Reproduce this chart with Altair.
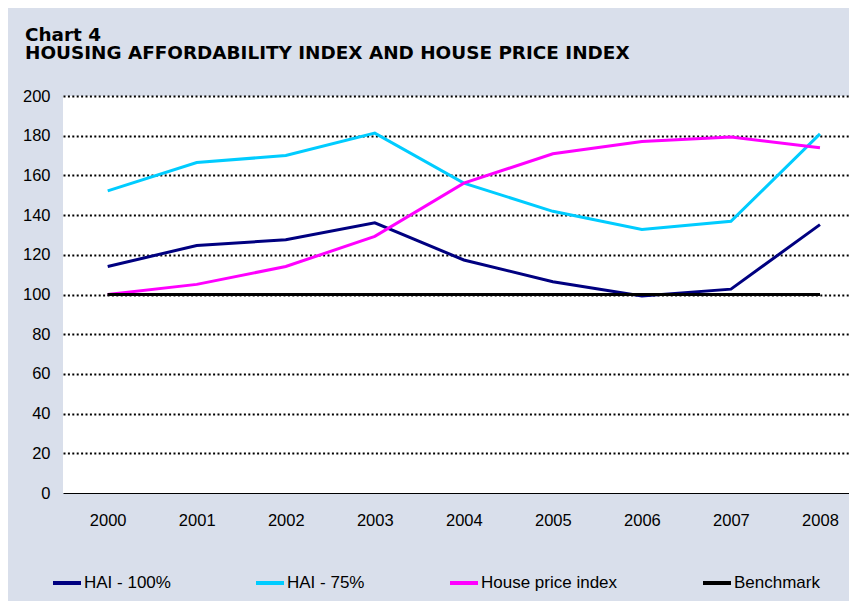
import altair as alt
import pandas as pd

years = [2000, 2001, 2002, 2003, 2004, 2005, 2006, 2007, 2008]
hai_100 = [114.1, 124.7, 127.6, 136.1, 117.4, 106.4, 99.3, 102.7, 135.2]
hai_75 = [152.2, 166.5, 170.0, 181.3, 156.1, 141.9, 132.7, 136.9, 180.9]
house_price = [100.0, 105.1, 114.1, 129.3, 156.1, 170.9, 177.1, 179.3, 173.9]
benchmark = [100, 100, 100, 100, 100, 100, 100, 100, 100]

series_names = ["HAI - 100%", "HAI - 75%", "House price index", "Benchmark"]
series_colors = ["#000080", "#00ccff", "#ff00ff", "#000000"]
y_ticks = [0, 20, 40, 60, 80, 100, 120, 140, 160, 180, 200]

rows = []
for name, vals in zip(series_names, [hai_100, hai_75, house_price, benchmark]):
    for yr, v in zip(years, vals):
        rows.append({"year": yr, "value": v, "series": name})
df = pd.DataFrame(rows)

FONT = "Liberation Sans"

color = alt.Color(
    "series:N",
    scale=alt.Scale(domain=series_names, range=series_colors),
    legend=alt.Legend(
        title=None,
        orient="none",
        legendX=-12,
        legendY=471,
        direction="horizontal",
        symbolType="stroke",
        symbolSize=784,
        symbolStrokeWidth=4,
        labelFontSize=17,
        labelFont=FONT,
        labelColor="#000000",
        labelOffset=1,
        columnPadding=77,
        padding=0,
        labelLimit=0,
    ),
)

x = alt.X(
    "year:Q",
    scale=alt.Scale(domain=[1999.498, 2008.326], nice=False, zero=False),
    axis=alt.Axis(
        title=None,
        values=years,
        format="d",
        grid=False,
        ticks=False,
        labelFlush=False,
        labelPadding=19,
        labelFontSize=16.5,
        labelFont=FONT,
        labelColor="#000000",
        domainColor="#000000",
        domainWidth=1.2,
    ),
)
y = alt.Y(
    "value:Q",
    scale=alt.Scale(domain=[0, 200], nice=False),
    axis=alt.Axis(
        title=None,
        values=y_ticks,
        domain=False,
        ticks=False,
        labelPadding=13,
        labelFontSize=16.5,
        labelFont=FONT,
        labelColor="#000000",
        grid=True,
        gridColor="#000000",
        gridWidth=2,
        gridDash=[2, 2.4],
        gridOpacity=alt.condition("datum.value == 0", alt.value(0), alt.value(1)),
    ),
)

base = alt.Chart(df).mark_line(strokeWidth=3, clip=True).encode(
    x=x, y=y, color=color, detail="series:N"
)
bench = alt.Chart(df).transform_filter(
    alt.datum.series == "Benchmark"
).mark_line(strokeWidth=3, clip=True).encode(x=x, y=y, color=color)

chart = alt.layer(base, bench).properties(
    width=786,
    height=397,
    background="#d9dfeb",
    padding={"left": 55, "top": 88, "right": 0, "bottom": 108},
    autosize=alt.AutoSizeParams(type="none"),
    title=alt.TitleParams(
        text=["Chart 4", "HOUSING AFFORDABILITY INDEX AND HOUSE PRICE INDEX"],
        anchor="start",
        frame="group",
        orient="top",
        dx=-38,
        offset=26,
        fontSize=18.4,
        font="DejaVu Sans",
        fontWeight="bold",
        color="#000000",
        lineHeight=17.6,
    ),
).configure_view(fill="#ffffff", stroke=None)

chart.save("out.html", embed_options={"renderer": "svg", "actions": False})
